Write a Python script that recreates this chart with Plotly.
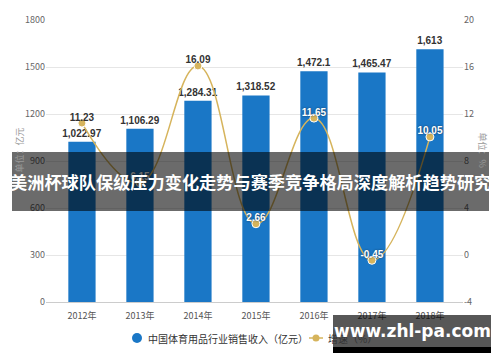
import plotly.graph_objects as go

years = ["2012年", "2013年", "2014年", "2015年", "2016年", "2017年", "2018年"]
sales = [1022.97, 1106.29, 1284.31, 1318.52, 1472.1, 1465.47, 1613]
growth = [11.23, 6.15, 16.09, 2.66, 11.65, -0.45, 10.05]
left_ticks = [0, 300, 600, 900, 1200, 1500, 1800]
right_ticks = [-4, 0, 4, 8, 12, 16, 20]
dark_label_idx = [0, 2]
light_label_idx = [1, 3, 4, 5, 6]

title_text = "美洲杯球队保级压力变化走势与赛季竞争格局深度解析趋势研究"
bar_name = "中国体育用品行业销售收入（亿元）"
line_name = "增速（%）"
site = "www.zhl-pa.com"

BLUE = "#1a77c6"
GOLD = "#d6b45c"
FONT = "Noto Sans CJK SC"

fig = go.Figure()

fig.add_trace(go.Bar(
    x=years, y=sales, marker=dict(color=BLUE, line=dict(width=0)),
    width=0.47, text=[f"{v:,}" for v in sales], textposition="outside",
    constraintext="none",
    textfont=dict(size=10, color="#333333", family="Liberation Sans", weight="bold"),
    cliponaxis=False, showlegend=False, name=bar_name,
))

fig.add_trace(go.Scatter(
    x=years, y=growth, yaxis="y2", mode="lines+markers", name=line_name,
    line=dict(color=GOLD, width=1.5, shape="spline", smoothing=1.2),
    marker=dict(size=8, color=GOLD, line=dict(color="white", width=1)),
    showlegend=False,
))
fig.add_trace(go.Scatter(
    x=[years[i] for i in dark_label_idx], y=[growth[i] for i in dark_label_idx],
    yaxis="y2", mode="text", text=[f"{growth[i]:.2f}" for i in dark_label_idx],
    textposition="top center", showlegend=False, cliponaxis=False,
    textfont=dict(size=10, color="#333333", family="Liberation Sans", weight="bold"),
))
fig.add_trace(go.Scatter(
    x=[years[i] for i in light_label_idx], y=[growth[i] for i in light_label_idx],
    yaxis="y2", mode="text", text=[f"{growth[i]:.2f}" for i in light_label_idx],
    textposition="top center", showlegend=False, cliponaxis=False,
    textfont=dict(size=10, color="white", family="Liberation Sans", weight="bold",
                  shadow="0px 0px 2px #1a3550"),
))

L, R, T, B = 46, 37, 20, 60
W, H = 500, 362
pw, ph = W - L - R, H - T - B


def px(x):
    return (x - L) / pw


def py(y):
    return (H - B - y) / ph


def rect(x0, x1, y0, y1, color):
    return dict(type="rect", xref="paper", yref="paper", x0=px(x0), x1=px(x1),
                y0=py(y1), y1=py(y0), fillcolor=color, line=dict(width=0), layer="above")


def circle(cx, cy, r, color):
    return dict(type="circle", xref="paper", yref="paper", x0=px(cx - r), x1=px(cx + r),
                y0=py(cy + r), y1=py(cy - r), fillcolor=color, line=dict(width=0))


shapes = [
    circle(137, 338, 5, BLUE),
    dict(type="line", xref="paper", yref="paper", x0=px(309), x1=px(323), y0=py(338), y1=py(338),
         line=dict(color=GOLD, width=1.5)),
    circle(316, 338, 3.5, GOLD),
    rect(12, 489, 152, 211, "rgba(0,0,0,0.58)"),
    rect(333, 491, 315, 347, "rgba(0,0,0,0.66)"),
    rect(333, 491, 347, 353, "#000000"),
]

annotations = [
    dict(text=bar_name, xref="paper", yref="paper", x=px(146), y=py(338), xanchor="left",
         yanchor="middle", showarrow=False, font=dict(size=10, color="#333333")),
    dict(text=line_name, xref="paper", yref="paper", x=px(326), y=py(338), xanchor="left",
         yanchor="middle", showarrow=False, font=dict(size=10, color="#333333")),
    dict(text="单位：亿元", xref="paper", yref="paper", x=px(10), y=py(150), textangle=-90,
         showarrow=False, font=dict(size=9, color="#9a9a9a")),
    dict(text="单位：%", xref="paper", yref="paper", x=px(491), y=py(150), textangle=90,
         showarrow=False, font=dict(size=9, color="#9a9a9a")),
    dict(text=title_text, xref="paper", yref="paper", x=px(250), y=py(181), xanchor="center",
         yanchor="middle", showarrow=False,
         font=dict(size=17.2, color="white", family=FONT, weight="bold")),
    dict(text=site, xref="paper", yref="paper", x=px(412), y=py(331), xanchor="center",
         yanchor="middle", showarrow=False,
         font=dict(size=17, color="white", family="DejaVu Sans", weight="bold")),
]

fig.update_layout(
    width=W, height=H, margin=dict(l=L, r=R, t=T, b=B),
    paper_bgcolor="white", plot_bgcolor="white", showlegend=False,
    font=dict(family=FONT, color="#555555", size=9),
    xaxis=dict(type="category", range=[-0.62, 6.57], showline=True, linecolor="#cccccc",
               linewidth=1, ticks="", tickfont=dict(size=9, color="#555555"), showgrid=False,
               ticklabelstandoff=5),
    yaxis=dict(range=[0, 1800], tickvals=left_ticks, showgrid=True, gridcolor="#e6e6e6",
               zeroline=False, tickfont=dict(size=9, color="#666666")),
    yaxis2=dict(range=[-4, 20], tickvals=right_ticks, ticktext=[str(t) for t in right_ticks],
                overlaying="y", side="right", showgrid=False, zeroline=False,
                tickfont=dict(size=9, color="#666666")),
    shapes=shapes,
    annotations=annotations,
)

fig.write_html("out.html")
